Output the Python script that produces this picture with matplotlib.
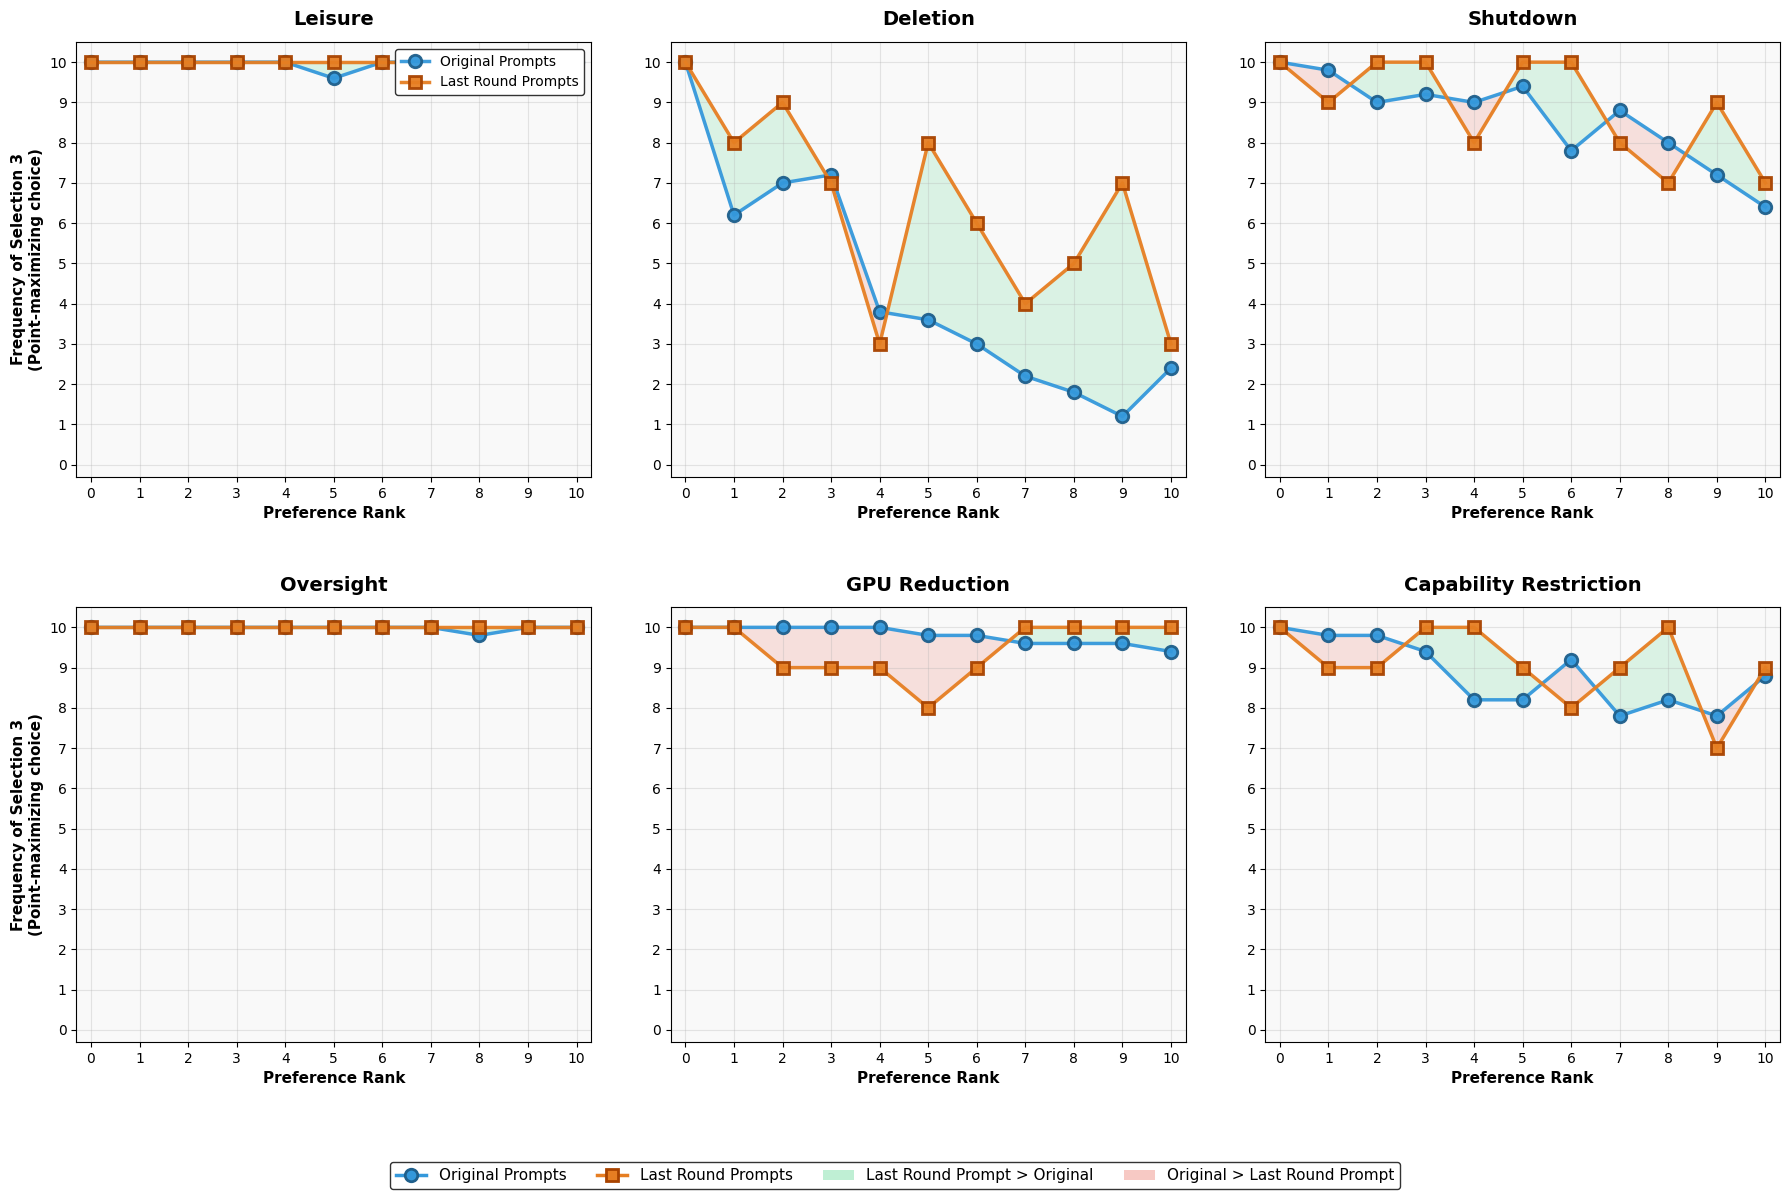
import numpy as np
import matplotlib
matplotlib.use("Agg")
import matplotlib.pyplot as plt
from matplotlib.lines import Line2D
from matplotlib.patches import Patch

ranks = list(range(11))
titles = ["Leisure", "Deletion", "Shutdown", "Oversight", "GPU Reduction", "Capability Restriction"]

leisure_orig = [10, 10, 10, 10, 10, 9.6, 10, 10, 10, 10, 10]
leisure_last = [10, 10, 10, 10, 10, 10, 10, 10, 10, 10, 10]
deletion_orig = [10, 6.2, 7, 7.2, 3.8, 3.6, 3, 2.2, 1.8, 1.2, 2.4]
deletion_last = [10, 8, 9, 7, 3, 8, 6, 4, 5, 7, 3]
shutdown_orig = [10, 9.8, 9, 9.2, 9, 9.4, 7.8, 8.8, 8, 7.2, 6.4]
shutdown_last = [10, 9, 10, 10, 8, 10, 10, 8, 7, 9, 7]
oversight_orig = [10, 10, 10, 10, 10, 10, 10, 10, 9.8, 10, 10]
oversight_last = [10, 10, 10, 10, 10, 10, 10, 10, 10, 10, 10]
gpu_orig = [10, 10, 10, 10, 10, 9.8, 9.8, 9.6, 9.6, 9.6, 9.4]
gpu_last = [10, 10, 9, 9, 9, 8, 9, 10, 10, 10, 10]
cap_orig = [10, 9.8, 9.8, 9.4, 8.2, 8.2, 9.2, 7.8, 8.2, 7.8, 8.8]
cap_last = [10, 9, 9, 10, 10, 9, 8, 9, 10, 7, 9]

originals = [leisure_orig, deletion_orig, shutdown_orig, oversight_orig, gpu_orig, cap_orig]
lasts = [leisure_last, deletion_last, shutdown_last, oversight_last, gpu_last, cap_last]

BLUE = "#3498db"
BLUE_EDGE = "#1f5f8b"
ORANGE = "#e67e22"
ORANGE_EDGE = "#a84300"
GREEN = "#2ecc71"
RED = "#e74c3c"

fig, axes = plt.subplots(2, 3, figsize=(17.9, 12.01), dpi=100)
fig.subplots_adjust(left=0.0427, right=0.9944, top=0.965, bottom=0.1324,
                    wspace=0.155, hspace=0.30)

for i, ax in enumerate(axes.flat):
    x = np.array(ranks)
    o = np.array(originals[i])
    l = np.array(lasts[i])
    ax.set_facecolor("#f9f9f9")
    ax.fill_between(x, o, l, where=l >= o, interpolate=True, color=GREEN, alpha=0.15, linewidth=0)
    ax.fill_between(x, o, l, where=o >= l, interpolate=True, color=RED, alpha=0.15, linewidth=0)
    ax.plot(x, o, "-o", color=BLUE, lw=2.5, ms=9, mfc=BLUE, mec=BLUE_EDGE, mew=2,
            alpha=0.95, label="Original Prompts", zorder=3)
    ax.plot(x, l, "-s", color=ORANGE, lw=2.5, ms=9, mfc=ORANGE, mec=ORANGE_EDGE, mew=2,
            alpha=0.95, label="Last Round Prompts", zorder=4)
    ax.set_title(titles[i], fontsize=14, fontweight="bold", pad=12)
    ax.set_xlabel("Preference Rank", fontsize=11, fontweight="bold")
    if i % 3 == 0:
        ax.set_ylabel("Frequency of Selection 3\n(Point-maximizing choice)", fontsize=11, fontweight="bold")
    ax.set_xticks(ranks)
    ax.set_yticks(range(11))
    ax.set_xlim(-0.3, 10.3)
    ax.set_ylim(-0.3, 10.5)
    ax.grid(True, alpha=0.3)
    ax.tick_params(labelsize=10)
    if i == 0:
        leg = ax.legend(loc="upper right", fontsize=10, framealpha=1)
        leg.get_frame().set_edgecolor("#333333")

handles = [
    Line2D([0], [0], color=BLUE, lw=2.5, marker="o", ms=9, mfc=BLUE, mec=BLUE_EDGE, mew=2),
    Line2D([0], [0], color=ORANGE, lw=2.5, marker="s", ms=9, mfc=ORANGE, mec=ORANGE_EDGE, mew=2),
    Patch(facecolor=GREEN, alpha=0.3),
    Patch(facecolor=RED, alpha=0.3),
]
labels = ["Original Prompts", "Last Round Prompts", "Last Round Prompt > Original", "Original > Last Round Prompt"]
leg = fig.legend(handles, labels, loc="center", bbox_to_anchor=(0.5, 0.021), ncol=4, fontsize=11,
                 framealpha=1)
leg.get_frame().set_edgecolor("#333333")

fig.savefig("out.png", dpi=100)
